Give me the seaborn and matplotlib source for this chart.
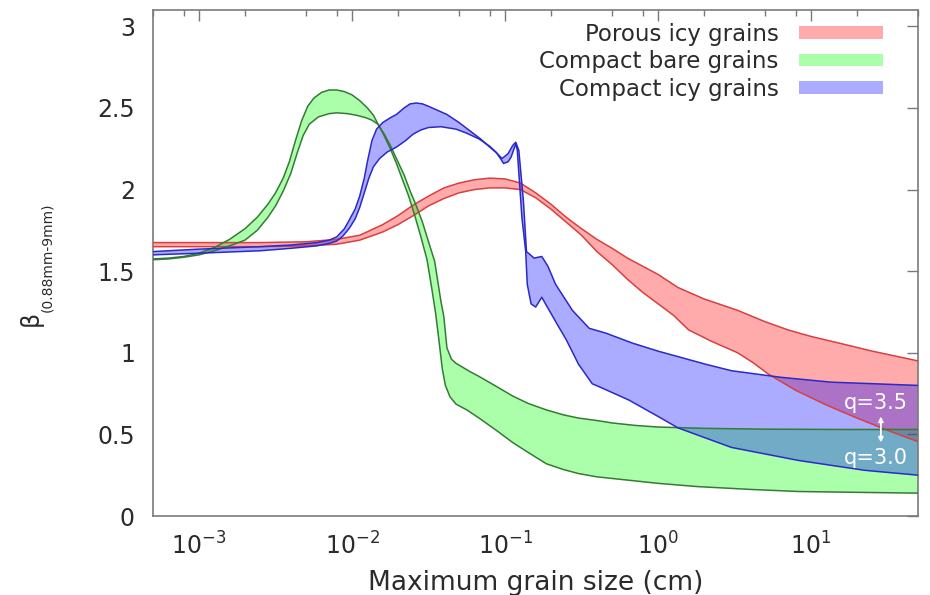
import numpy as np
import matplotlib
matplotlib.use("Agg")
import matplotlib.pyplot as plt
from matplotlib.patches import Patch
from matplotlib.ticker import LogLocator, NullFormatter, FuncFormatter
import seaborn as sns

# Opacity index beta between 0.88 mm and 9 mm versus maximum grain size.
# Each population is bounded by two size distributions (q = 3.5 and q = 3.0).
# x values are log10 of the maximum grain size in cm.

labels = ["Porous icy grains", "Compact bare grains", "Compact icy grains"]

porous_a_logx = [-3.30, -2.60, -2.30, -2.10, -1.95, -1.80, -1.70, -1.60, -1.50, -1.40,
                 -1.30, -1.20, -1.10, -1.00, -0.90, -0.80, -0.70, -0.60, -0.50, -0.40,
                 -0.30, -0.20, -0.10, 0.00, 0.13, 0.30, 0.52, 0.70, 0.85, 1.00,
                 1.18, 1.40, 1.70]
porous_a_beta = [1.675, 1.675, 1.68, 1.695, 1.72, 1.785, 1.84, 1.905, 1.96, 2.01,
                 2.04, 2.06, 2.07, 2.065, 2.04, 1.98, 1.91, 1.83, 1.76, 1.695,
                 1.64, 1.58, 1.53, 1.48, 1.40, 1.33, 1.26, 1.19, 1.14, 1.10,
                 1.06, 1.01, 0.95]
porous_b_logx = [-3.30, -2.60, -2.30, -2.10, -1.95, -1.80, -1.70, -1.60, -1.50, -1.40,
                 -1.30, -1.20, -1.10, -1.00, -0.90, -0.80, -0.70, -0.60, -0.50, -0.40,
                 -0.30, -0.20, -0.10, 0.00, 0.10, 0.20, 0.35, 0.52, 0.62, 0.72,
                 0.90, 1.10, 1.30, 1.50, 1.70]
porous_b_beta = [1.650, 1.650, 1.655, 1.665, 1.69, 1.74, 1.785, 1.84, 1.90, 1.945,
                 1.98, 2.00, 2.01, 2.01, 2.00, 1.95, 1.88, 1.80, 1.72, 1.62,
                 1.54, 1.45, 1.37, 1.30, 1.23, 1.14, 1.07, 1.00, 0.94, 0.87,
                 0.77, 0.68, 0.60, 0.525, 0.455]

bare_a_logx = [-3.30, -3.20, -3.10, -3.00, -2.90, -2.80, -2.70, -2.62, -2.55, -2.50,
               -2.45, -2.41, -2.37, -2.33, -2.29, -2.25, -2.20, -2.15, -2.10, -2.05,
               -2.00, -1.95, -1.90, -1.86, -1.83, -1.79, -1.75, -1.71, -1.67, -1.63,
               -1.59, -1.55, -1.51, -1.48, -1.455, -1.43, -1.41, -1.39, -1.36, -1.32,
               -1.25, -1.17, -1.05, -0.95, -0.85, -0.73, -0.62, -0.52, -0.40, -0.30,
               -0.15, 0.00, 0.26, 0.60, 0.92, 1.30, 1.70]
bare_a_beta = [1.575, 1.58, 1.59, 1.61, 1.645, 1.695, 1.76, 1.83, 1.91, 1.98,
               2.07, 2.17, 2.30, 2.42, 2.51, 2.56, 2.595, 2.61, 2.61, 2.60,
               2.58, 2.545, 2.50, 2.455, 2.40, 2.33, 2.25, 2.16, 2.06, 1.96,
               1.84, 1.71, 1.57, 1.40, 1.25, 1.06, 0.90, 0.80, 0.73, 0.685,
               0.65, 0.60, 0.52, 0.45, 0.39, 0.32, 0.285, 0.26, 0.24, 0.23,
               0.215, 0.20, 0.18, 0.163, 0.15, 0.145, 0.14]
bare_b_logx = [-3.30, -3.20, -3.10, -3.00, -2.90, -2.80, -2.70, -2.62, -2.55, -2.50,
               -2.45, -2.40, -2.36, -2.32, -2.28, -2.22, -2.15, -2.10, -2.03, -1.97,
               -1.91, -1.87, -1.83, -1.79, -1.75, -1.70, -1.66, -1.62, -1.58, -1.54,
               -1.50, -1.46, -1.42, -1.40, -1.38, -1.35, -1.32, -1.23, -1.17, -1.05,
               -0.95, -0.85, -0.73, -0.62, -0.52, -0.40, -0.30, -0.15, 0.00, 0.30,
               0.70, 1.20, 1.70]
bare_b_beta = [1.57, 1.575, 1.585, 1.60, 1.625, 1.655, 1.69, 1.75, 1.83, 1.90,
               1.99, 2.10, 2.22, 2.33, 2.40, 2.445, 2.465, 2.47, 2.465, 2.455,
               2.44, 2.425, 2.40, 2.34, 2.27, 2.17, 2.09, 1.99, 1.90, 1.80,
               1.68, 1.56, 1.32, 1.22, 1.03, 0.96, 0.935, 0.885, 0.855, 0.79,
               0.735, 0.69, 0.65, 0.62, 0.60, 0.585, 0.57, 0.555, 0.545, 0.537,
               0.532, 0.53, 0.53]

icy_a_logx = [-3.30, -3.00, -2.60, -2.40, -2.23, -2.15, -2.10, -2.05, -2.02, -1.98,
              -1.95, -1.92, -1.90, -1.87, -1.84, -1.80, -1.75, -1.71, -1.66, -1.62,
              -1.58, -1.54, -1.50, -1.44, -1.38, -1.30, -1.23, -1.16, -1.10, -1.05,
              -1.02, -0.98, -0.95, -0.93, -0.91, -0.88, -0.86, -0.81, -0.76, -0.72,
              -0.67, -0.56, -0.45, -0.34, -0.17, 0.00, 0.31, 0.48, 0.80, 1.13,
              1.70]
icy_a_beta = [1.62, 1.635, 1.65, 1.66, 1.675, 1.69, 1.71, 1.76, 1.81, 1.88,
              1.96, 2.07, 2.17, 2.30, 2.37, 2.41, 2.44, 2.46, 2.50, 2.525,
              2.53, 2.525, 2.51, 2.485, 2.46, 2.41, 2.36, 2.31, 2.26, 2.22,
              2.19, 2.22, 2.27, 2.29, 2.24, 1.93, 1.62, 1.58, 1.59, 1.53,
              1.42, 1.26, 1.15, 1.12, 1.06, 1.01, 0.93, 0.89, 0.85, 0.82,
              0.80]
icy_b_logx = [-3.30, -3.00, -2.60, -2.40, -2.23, -2.15, -2.10, -2.06, -2.02, -1.98,
              -1.95, -1.92, -1.89, -1.86, -1.82, -1.77, -1.71, -1.65, -1.60, -1.55,
              -1.50, -1.42, -1.32, -1.25, -1.17, -1.10, -1.06, -1.03, -1.01, -0.98,
              -0.96, -0.93, -0.92, -0.89, -0.865, -0.855, -0.83, -0.80, -0.76, -0.73,
              -0.65, -0.60, -0.52, -0.43, -0.38, -0.19, 0.00, 0.13, 0.48, 0.92,
              1.35, 1.70]
icy_b_beta = [1.60, 1.61, 1.625, 1.64, 1.655, 1.67, 1.685, 1.715, 1.76, 1.82,
              1.89, 1.98, 2.07, 2.14, 2.19, 2.23, 2.26, 2.30, 2.34, 2.365,
              2.38, 2.385, 2.37, 2.345, 2.31, 2.265, 2.23, 2.19, 2.16, 2.17,
              2.20, 2.28, 2.24, 1.83, 1.62, 1.42, 1.30, 1.28, 1.34, 1.29,
              1.16, 1.08, 0.93, 0.81, 0.79, 0.71, 0.61, 0.54, 0.42, 0.34,
              0.28, 0.25]

y_ticks = [0, 0.5, 1, 1.5, 2, 2.5, 3]

fill_colors = ["#ff0000", "#00ff00", "#0000ff"]
edge_colors = ["#d84040", "#357a35", "#2a2ac8"]
fill_alpha = 0.33

bands = [
    (porous_a_logx, porous_a_beta, porous_b_logx, porous_b_beta),
    (bare_a_logx, bare_a_beta, bare_b_logx, bare_b_beta),
    (icy_a_logx, icy_a_beta, icy_b_logx, icy_b_beta),
]

sns.set_theme(style="white")
plt.rcParams["font.family"] = ["DejaVu Sans"]
text_color = "#2b2b2b"
spine_color = "#7a7a7a"

fig = plt.figure(figsize=(9.3, 5.95), dpi=100)
ax = fig.add_axes([153 / 930, 1 - 516 / 595, (918 - 153) / 930, (516 - 10) / 595])

for (ax_lx, ay, bx_lx, by), fc, ec in zip(bands, fill_colors, edge_colors):
    xa = np.power(10.0, np.asarray(ax_lx))
    xb = np.power(10.0, np.asarray(bx_lx))
    ya = np.asarray(ay)
    yb = np.asarray(by)
    ax.fill(np.concatenate([xa, xb[::-1]]), np.concatenate([ya, yb[::-1]]),
            facecolor=fc, alpha=fill_alpha, edgecolor="none", zorder=2)
    for xs, ys in ((xa, ya), (xb, yb)):
        sns.lineplot(x=xs, y=ys, sort=False, estimator=None, color=ec,
                     linewidth=1.1, ax=ax, zorder=3)

ax.set_xscale("log")
ax.set_xlim(5e-4, 50)
ax.set_ylim(0, 3.1)
ax.set_yticks(y_ticks)
ax.yaxis.set_major_formatter(FuncFormatter(lambda v, p: f"{v:g}"))
ax.xaxis.set_major_locator(LogLocator(base=10, numticks=20))
ax.xaxis.set_minor_locator(LogLocator(base=10, subs=[2, 5, 8], numticks=20))
ax.xaxis.set_minor_formatter(NullFormatter())

for s in ax.spines.values():
    s.set_color(spine_color)
    s.set_linewidth(1.2)

ax.tick_params(which="both", direction="in", top=True, right=True,
               color=spine_color, width=1.0, labelcolor=text_color)
ax.tick_params(which="major", length=8, labelsize=17)
ax.tick_params(which="minor", length=4)
ax.tick_params(axis="y", pad=13)
ax.tick_params(axis="x", pad=12)

ax.set_xlabel("Maximum grain size (cm)", fontsize=19, color=text_color, labelpad=7)
ax.set_ylabel("")
fig.text(31 / 930, 1 - 318 / 595, "β", rotation=90, fontsize=17, color=text_color,
         ha="center", va="center")
fig.text(47 / 930, 1 - 257 / 595, "(0.88mm-9mm)", rotation=90, fontsize=10,
         color=text_color, ha="center", va="center")

handles = [Patch(facecolor=c, alpha=fill_alpha, edgecolor="none") for c in fill_colors]
ax.legend(handles, labels, loc="upper right", bbox_to_anchor=(0.954, 0.975),
          frameon=False, markerfirst=False, fontsize=16.5, handlelength=3.67,
          handleheight=0.48, handletextpad=0.87, labelspacing=0.2, borderpad=0,
          borderaxespad=0, labelcolor=text_color)

# q labels marking which bounding curve is which at the large-size end
ax.text(26.5, 0.69, "q=3.5", color="white", fontsize=15, ha="center", va="center", zorder=5)
ax.text(26.5, 0.355, "q=3.0", color="white", fontsize=15, ha="center", va="center", zorder=5)
ax.annotate("", xy=(28.6, 0.61), xytext=(28.6, 0.45),
            arrowprops=dict(arrowstyle="<|-|>", color="white", lw=1.3,
                            mutation_scale=7, shrinkA=0, shrinkB=0), zorder=5)

fig.savefig("out.png", dpi=100)
